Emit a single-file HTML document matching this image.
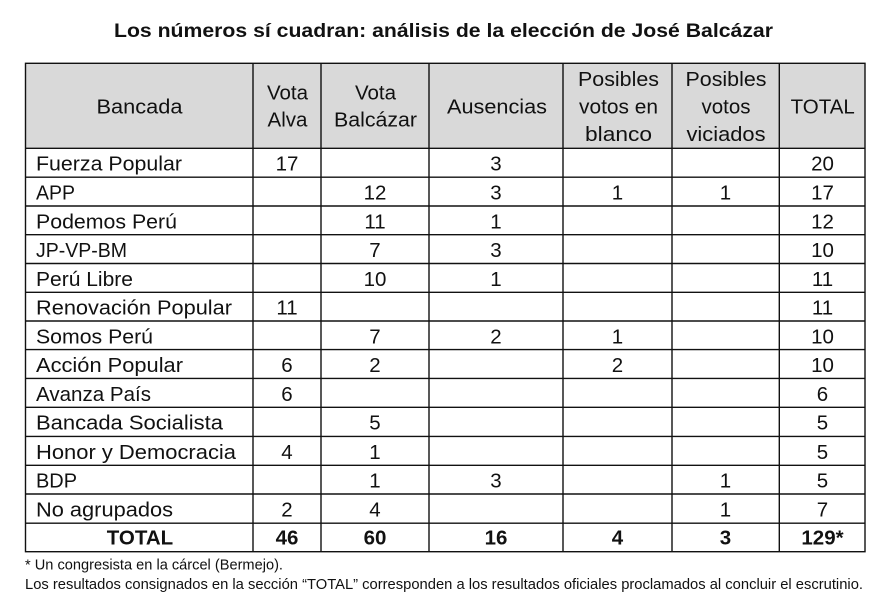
<!DOCTYPE html>
<html><head><meta charset="utf-8">
<style>
html,body{margin:0;padding:0;background:#fff;}
svg{display:block;}
text{font-family:"Liberation Sans",Arial,sans-serif;fill:#111;}
</style></head>
<body>
<svg width="891" height="597" viewBox="0 0 891 597" xmlns="http://www.w3.org/2000/svg">
<rect x="0" y="0" width="891" height="597" fill="#fff"/>
<text x="114" y="37" font-size="19" font-weight="bold" textLength="659" lengthAdjust="spacingAndGlyphs" fill="#000">Los números sí cuadran: análisis de la elección de José Balcázar</text>

<rect x="25.5" y="63.3" width="839.5" height="85" fill="#d9d9d9"/>

<g stroke="#111" stroke-width="1.4" fill="none">
<rect x="25.5" y="63.3" width="839.5" height="488.4"/>
<line x1="253" y1="63.3" x2="253" y2="551.7"/>
<line x1="321" y1="63.3" x2="321" y2="551.7"/>
<line x1="429" y1="63.3" x2="429" y2="551.7"/>
<line x1="563" y1="63.3" x2="563" y2="551.7"/>
<line x1="672" y1="63.3" x2="672" y2="551.7"/>
<line x1="779.3" y1="63.3" x2="779.3" y2="551.7"/>
<line x1="25.5" y1="148.3" x2="865" y2="148.3"/>
<line x1="25.5" y1="177.2" x2="865" y2="177.2"/>
<line x1="25.5" y1="206" x2="865" y2="206"/>
<line x1="25.5" y1="234.7" x2="865" y2="234.7"/>
<line x1="25.5" y1="263.5" x2="865" y2="263.5"/>
<line x1="25.5" y1="292.3" x2="865" y2="292.3"/>
<line x1="25.5" y1="321" x2="865" y2="321"/>
<line x1="25.5" y1="349.6" x2="865" y2="349.6"/>
<line x1="25.5" y1="378.4" x2="865" y2="378.4"/>
<line x1="25.5" y1="407.3" x2="865" y2="407.3"/>
<line x1="25.5" y1="436.4" x2="865" y2="436.4"/>
<line x1="25.5" y1="465.3" x2="865" y2="465.3"/>
<line x1="25.5" y1="494" x2="865" y2="494"/>
<line x1="25.5" y1="523.2" x2="865" y2="523.2"/>
</g>

<!-- header -->
<g font-size="20.5" text-anchor="middle">
<text x="139.5" y="113.3" textLength="86" lengthAdjust="spacingAndGlyphs">Bancada</text>
<text x="287.5" y="99.3">Vota</text>
<text x="287.5" y="126.7">Alva</text>
<text x="375.5" y="99.3">Vota</text>
<text x="375.5" y="126.7" textLength="83" lengthAdjust="spacingAndGlyphs">Balcázar</text>
<text x="497" y="113.3" textLength="100" lengthAdjust="spacingAndGlyphs">Ausencias</text>
<text x="618.5" y="86" textLength="81" lengthAdjust="spacingAndGlyphs">Posibles</text>
<text x="618.5" y="113.4" textLength="79" lengthAdjust="spacingAndGlyphs">votos en</text>
<text x="618.5" y="141" textLength="67" lengthAdjust="spacingAndGlyphs">blanco</text>
<text x="726" y="86" textLength="81" lengthAdjust="spacingAndGlyphs">Posibles</text>
<text x="726" y="113.4">votos</text>
<text x="726" y="141" textLength="79" lengthAdjust="spacingAndGlyphs">viciados</text>
<text x="822.7" y="113.3">TOTAL</text>
</g>

<!-- row labels -->
<g font-size="20.5">
<text x="36" y="170.7" textLength="146" lengthAdjust="spacingAndGlyphs">Fuerza Popular</text>
<text x="36" y="199.6" textLength="39" lengthAdjust="spacingAndGlyphs">APP</text>
<text x="36" y="228.4" textLength="141" lengthAdjust="spacingAndGlyphs">Podemos Perú</text>
<text x="36" y="257.1" textLength="91" lengthAdjust="spacingAndGlyphs">JP-VP-BM</text>
<text x="36" y="285.9" textLength="97" lengthAdjust="spacingAndGlyphs">Perú Libre</text>
<text x="36" y="314.7" textLength="196" lengthAdjust="spacingAndGlyphs">Renovación Popular</text>
<text x="36" y="343.4" textLength="117" lengthAdjust="spacingAndGlyphs">Somos Perú</text>
<text x="36" y="372" textLength="147" lengthAdjust="spacingAndGlyphs">Acción Popular</text>
<text x="36" y="400.8" textLength="115" lengthAdjust="spacingAndGlyphs">Avanza País</text>
<text x="36" y="429.7" textLength="187" lengthAdjust="spacingAndGlyphs">Bancada Socialista</text>
<text x="36" y="458.8" textLength="200" lengthAdjust="spacingAndGlyphs">Honor y Democracia</text>
<text x="36" y="487.7" textLength="41" lengthAdjust="spacingAndGlyphs">BDP</text>
<text x="36" y="516.4" textLength="137" lengthAdjust="spacingAndGlyphs">No agrupados</text>
</g>

<!-- numbers -->
<g font-size="20.5" text-anchor="middle">
<text x="287" y="170.7">17</text><text x="496" y="170.7">3</text><text x="822.5" y="170.7">20</text>
<text x="375" y="199.6">12</text><text x="496" y="199.6">3</text><text x="617.5" y="199.6">1</text><text x="725.5" y="199.6">1</text><text x="822.5" y="199.6">17</text>
<text x="375" y="228.4">11</text><text x="496" y="228.4">1</text><text x="822.5" y="228.4">12</text>
<text x="375" y="257.1">7</text><text x="496" y="257.1">3</text><text x="822.5" y="257.1">10</text>
<text x="375" y="285.9">10</text><text x="496" y="285.9">1</text><text x="822.5" y="285.9">11</text>
<text x="287" y="314.7">11</text><text x="822.5" y="314.7">11</text>
<text x="375" y="343.4">7</text><text x="496" y="343.4">2</text><text x="617.5" y="343.4">1</text><text x="822.5" y="343.4">10</text>
<text x="287" y="372">6</text><text x="375" y="372">2</text><text x="617.5" y="372">2</text><text x="822.5" y="372">10</text>
<text x="287" y="400.8">6</text><text x="822.5" y="400.8">6</text>
<text x="375" y="429.7">5</text><text x="822.5" y="429.7">5</text>
<text x="287" y="458.8">4</text><text x="375" y="458.8">1</text><text x="822.5" y="458.8">5</text>
<text x="375" y="487.7">1</text><text x="496" y="487.7">3</text><text x="725.5" y="487.7">1</text><text x="822.5" y="487.7">5</text>
<text x="287" y="516.4">2</text><text x="375" y="516.4">4</text><text x="725.5" y="516.4">1</text><text x="822.5" y="516.4">7</text>
</g>

<!-- total row -->
<g font-size="20.5" font-weight="bold" text-anchor="middle">
<text x="140" y="544.4" fill="#000">TOTAL</text>
<text x="287" y="544.4" fill="#000">46</text>
<text x="375" y="544.4" fill="#000">60</text>
<text x="496" y="544.4" fill="#000">16</text>
<text x="617.5" y="544.4" fill="#000">4</text>
<text x="725.5" y="544.4" fill="#000">3</text>
<text x="822.5" y="544.4" fill="#000">129*</text>
</g>

<!-- footnotes -->
<text x="25" y="569.3" font-size="14.5" textLength="258" lengthAdjust="spacingAndGlyphs">* Un congresista en la cárcel (Bermejo).</text>
<text x="25" y="589" font-size="14.5" textLength="838" lengthAdjust="spacingAndGlyphs">Los resultados consignados en la sección “TOTAL” corresponden a los resultados oficiales proclamados al concluir el escrutinio.</text>
</svg>
</body></html>
